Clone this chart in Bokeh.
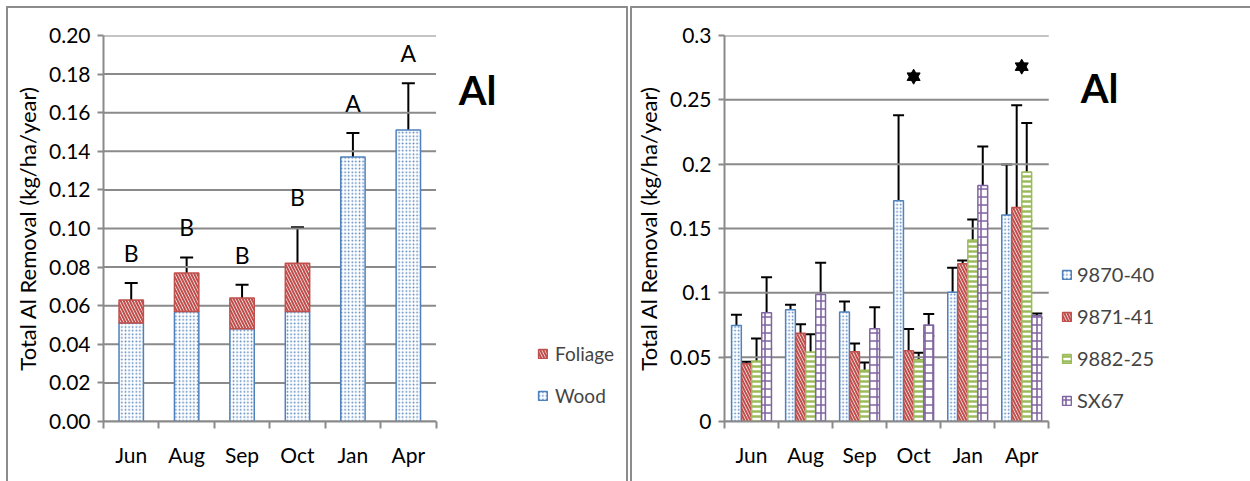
import numpy as np
from bokeh.plotting import figure
from bokeh.models import (ColumnDataSource, Range1d, FixedTicker, Whisker, TeeHead,
                          Label, Legend, LegendItem)
from bokeh.layouts import row
from bokeh.core.properties import value
from bokeh.embed import file_html
from bokeh.resources import INLINE

# ---------------- data ----------------
months = ["Jun", "Aug", "Sep", "Oct", "Jan", "Apr"]

# left panel: stacked wood + foliage
wood = [0.051, 0.057, 0.048, 0.057, 0.137, 0.151]
foliage = [0.012, 0.020, 0.016, 0.025, 0.0, 0.0]
total_err = [0.0088, 0.008, 0.0068, 0.0187, 0.0125, 0.0242]
letters = ["B", "B", "B", "B", "A", "A"]
left_ticks = [0.0, 0.02, 0.04, 0.06, 0.08, 0.10, 0.12, 0.14, 0.16, 0.18, 0.20]

# right panel: clones
clones = ["9870-40", "9871-41", "9882-25", "SX67"]
c9870 = [0.0747, 0.0868, 0.0852, 0.1715, 0.1005, 0.1605]
e9870 = [0.0082, 0.0039, 0.0081, 0.0665, 0.0189, 0.0392]
c9871 = [0.0449, 0.0685, 0.0542, 0.0549, 0.1227, 0.1663]
e9871 = [0.0016, 0.0071, 0.0065, 0.0170, 0.0025, 0.0795]
c9882 = [0.0470, 0.0541, 0.0399, 0.0480, 0.1410, 0.1940]
e9882 = [0.0175, 0.0137, 0.0060, 0.0055, 0.0160, 0.0380]
cSX67 = [0.0845, 0.0988, 0.0720, 0.0750, 0.1835, 0.0821]
eSX67 = [0.0276, 0.0245, 0.0167, 0.0085, 0.0302, 0.0018]
star_months = ["Oct", "Apr"]
right_ticks = [0.0, 0.05, 0.1, 0.15, 0.2, 0.25, 0.3]
right_tick_labels = ["0", "0.05", "0.1", "0.15", "0.2", "0.25", "0.3"]

# ---------------- styles ----------------
FONT = "Lato"
GRAY = "#8a8a8a"
BLUE = "#4F81BD"
RED = "#C0504D"
GREEN = "#9BBB59"
PURPLE = "#8064A2"
BORDER = "2px solid #8c8c8c"
N = len(months)


def base_fig(ymax, ticks, tick_labels, left_border, plot_px, total_px):
    # frame spans the plot area plus the legend/label area; x axis bounded to the months
    frame_w = total_px
    xmax = N * frame_w / plot_px
    p = figure(frame_width=frame_w, frame_height=384, output_backend="svg",
               toolbar_location=None,
               x_range=Range1d(0, xmax), y_range=Range1d(0, ymax),
               min_border_left=left_border, min_border_right=5,
               min_border_top=27, min_border_bottom=62)
    p.outline_line_color = None
    p.background_fill_color = "white"
    p.border_fill_color = "white"
    p.xgrid.grid_line_color = None
    p.ygrid.grid_line_color = None
    # horizontal gridlines only across the month area
    p.segment(x0=[0] * len(ticks), x1=[N] * len(ticks), y0=ticks, y1=ticks,
              line_color=GRAY, line_width=2)
    centers = [i + 0.5 for i in range(N)]
    bounds = [float(i) for i in range(N + 1)]
    p.xaxis.ticker = FixedTicker(ticks=centers, minor_ticks=bounds)
    p.xaxis.major_label_overrides = {c: m for c, m in zip(centers, months)}
    p.xaxis.bounds = (0, N)
    p.xaxis.major_tick_out = 0
    p.xaxis.major_tick_in = 0
    p.xaxis.minor_tick_out = 7
    p.xaxis.minor_tick_in = 0
    p.xaxis.minor_tick_line_color = GRAY
    p.xaxis.minor_tick_line_width = 2
    p.xaxis.major_label_standoff = 13
    for ax in (p.xaxis, p.yaxis):
        ax.axis_line_color = GRAY
        ax.axis_line_width = 2
        ax.major_label_text_font = FONT
        ax.major_label_text_font_size = "21px"
        ax.major_label_text_color = "black"
    p.yaxis.ticker = FixedTicker(ticks=ticks)
    p.yaxis.major_label_overrides = {t: l for t, l in zip(ticks, tick_labels)}
    p.yaxis.major_tick_out = 6
    p.yaxis.major_tick_in = 0
    p.yaxis.minor_tick_line_color = None
    p.yaxis.major_tick_line_color = GRAY
    p.yaxis.major_tick_line_width = 2
    p.yaxis.major_label_standoff = 7
    p.yaxis.axis_label = "Total Al Removal (kg/ha/year)"
    p.yaxis.axis_label_text_font = FONT
    p.yaxis.axis_label_text_font_size = "22px"
    p.yaxis.axis_label_text_font_style = "normal"
    p.yaxis.axis_label_text_color = "black"
    p.yaxis.axis_label_standoff = 5
    return p


# ---------------- left panel ----------------
p1 = base_fig(0.2, left_ticks, [f"{t:.2f}" for t in left_ticks], 95, 330, 518)

x_left = [i + 0.5 for i in range(N)]
totals = [w + f for w, f in zip(wood, foliage)]
src1 = ColumnDataSource(dict(x=x_left, wood=wood, total=totals,
                             falpha=[1.0 if f > 0 else 0.0 for f in foliage],
                             upper=[t + e for t, e in zip(totals, total_err)],
                             lower=[t - e for t, e in zip(totals, total_err)],
                             letters=letters))
rw = p1.vbar(x="x", bottom=0, top="wood", width=0.44, source=src1,
             fill_color="white", line_color=BLUE, line_width=1.5,
             hatch_pattern="dot", hatch_color=BLUE, hatch_scale=3.6, hatch_weight=2.6)
rf = p1.vbar(x="x", bottom="wood", top="total", width=0.44, source=src1,
             fill_color="white", line_color=RED, line_width=1.5, line_alpha="falpha",
             fill_alpha="falpha", hatch_alpha="falpha",
             hatch_pattern="left_diagonal_line", hatch_color=RED, hatch_scale=6,
             hatch_weight=2.1)
w1 = Whisker(base="x", upper="upper", lower="lower", source=src1,
             line_color="black", line_width=2,
             upper_head=TeeHead(size=13, line_width=2, line_color="black"),
             lower_head=TeeHead(size=13, line_width=2, line_color="black"))
p1.add_layout(w1)
p1.text(x="x", y="upper", text="letters", source=src1, y_offset=-30,
        text_align="center", text_baseline="middle",
        text_font=value(FONT), text_font_size="23px", text_color="black")

leg1 = Legend(items=[LegendItem(label="Foliage", renderers=[rf]),
                     LegendItem(label="Wood", renderers=[rw])],
              location=(434, 14), padding=0, margin=0, spacing=19,
              glyph_width=11, glyph_height=11, label_standoff=7,
              label_text_font=FONT, label_text_font_size="19px",
              background_fill_alpha=0, border_line_color=None,
              label_height=20)
p1.add_layout(leg1)
p1.add_layout(Label(x=374, y=332, x_units="screen", y_units="screen", text="Al",
                    text_font=FONT, text_font_size="40px", text_font_style="bold",
                    text_align="center", text_baseline="middle", text_color="black"))
p1.styles = {"border-left": BORDER, "border-top": BORDER, "border-right": BORDER,
             "margin-left": "6px", "margin-top": "6px"}

# ---------------- right panel ----------------
p2 = base_fig(0.3, right_ticks, right_tick_labels, 92, 323, 521)

bw = 0.186
offsets = [-1.5 * bw, -0.5 * bw, 0.5 * bw, 1.5 * bw]
series = [c9870, c9871, c9882, cSX67]
errs = [e9870, e9871, e9882, eSX67]
colors = [BLUE, RED, GREEN, PURPLE]
hatches = ["dot", "left_diagonal_line", "horizontal_line", "cross"]
hscale = [3.6, 6, 5, 8]
hweight = [2.6, 2.1, 2.5, 1.6]
renderers = []
all_upper = []
for k in range(4):
    xs = [i + 0.5 + offsets[k] for i in range(N)]
    up = [v + e for v, e in zip(series[k], errs[k])]
    lo = [v - e for v, e in zip(series[k], errs[k])]
    all_upper.append(up)
    src = ColumnDataSource(dict(x=xs, top=series[k], upper=up, lower=lo))
    r = p2.vbar(x="x", top="top", width=bw * 0.97, source=src,
                fill_color="white", line_color=colors[k], line_width=1.5,
                hatch_pattern=hatches[k], hatch_color=colors[k],
                hatch_scale=hscale[k], hatch_weight=hweight[k])
    renderers.append(r)
    p2.add_layout(Whisker(base="x", upper="upper", lower="lower", source=src,
                          line_color="black", line_width=2,
                          upper_head=TeeHead(size=11, line_width=2, line_color="black"),
                          lower_head=TeeHead(size=11, line_width=2, line_color="black")))

star_idx = [months.index(m) for m in star_months]
star_x = [i + 0.5 for i in star_idx]
star_y = [max(all_upper[k][i] for k in range(4)) + 0.030 for i in star_idx]
star_src = ColumnDataSource(dict(x=star_x, y=star_y))
p2.scatter(x="x", y="y", source=star_src, marker="triangle", size=13,
           fill_color="black", line_color="black")
p2.scatter(x="x", y="y", source=star_src, marker="inverted_triangle", size=13,
           fill_color="black", line_color="black")

leg2 = Legend(items=[LegendItem(label=c, renderers=[r]) for c, r in zip(clones, renderers)],
              location=(337, 9), padding=0, margin=0, spacing=18,
              glyph_width=11, glyph_height=11, label_standoff=5,
              label_text_font=FONT, label_text_font_size="20px",
              background_fill_alpha=0, border_line_color=None, label_height=20)
p2.add_layout(leg2)
p2.add_layout(Label(x=375, y=334, x_units="screen", y_units="screen", text="Al",
                    text_font=FONT, text_font_size="40px", text_font_style="bold",
                    text_align="center", text_baseline="middle", text_color="black"))
p2.styles = {"border-left": BORDER, "border-top": BORDER,
             "margin-left": "2px", "margin-top": "6px"}

layout = row(p1, p2, spacing=0)
open("out.html", "w").write(file_html(layout, INLINE))
